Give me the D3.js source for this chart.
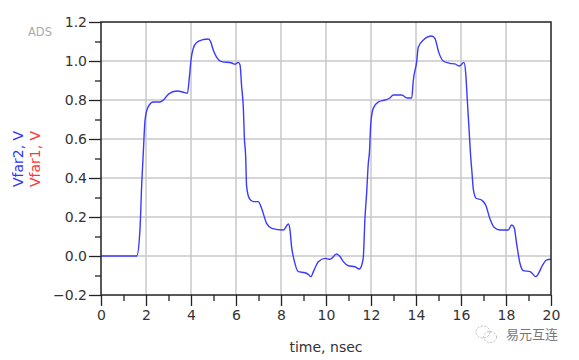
<!DOCTYPE html>
<html><head><meta charset="utf-8">
<script src="https://cdn.jsdelivr.net/npm/d3@7"></script>
<style>body{margin:0;background:#fff}svg{display:block}</style>
</head><body>
<script>
// time (ns) and Vfar2 (V)
const timeNs = [0,1.59,1.73,1.81,1.88,1.96,2.10,2.33,2.62,2.77,3.0,3.36,3.66,3.84,3.93,4.0,4.10,4.25,4.55,4.77,4.87,4.99,5.14,5.36,5.81,5.96,6.10,6.18,6.25,6.33,6.37,6.43,6.47,6.59,6.77,6.99,7.14,7.36,7.59,8.10,8.33,8.40,8.47,8.58,8.77,9.07,9.21,9.33,9.44,9.66,9.96,10.18,10.47,10.62,10.77,10.99,11.29,11.48,11.59,11.66,11.73,11.81,11.88,11.93,11.99,12.10,12.33,12.62,12.84,12.99,13.36,13.61,13.81,13.88,14.03,14.10,14.33,14.70,14.84,15.0,15.21,15.51,15.73,15.93,16.13,16.21,16.28,16.36,16.43,16.48,16.55,16.67,16.92,17.1,17.29,17.47,17.73,18.10,18.25,18.36,18.47,18.62,18.77,19.07,19.33,19.44,19.63,19.81,20.0];
const vfar2 = [0,0,0.13,0.37,0.53,0.70,0.766,0.79,0.79,0.80,0.83,0.846,0.84,0.834,0.92,1.005,1.065,1.095,1.11,1.113,1.10,1.056,1.019,0.997,0.99,0.983,0.993,0.98,0.87,0.75,0.61,0.51,0.36,0.296,0.279,0.279,0.244,0.167,0.142,0.133,0.164,0.133,0.048,-0.02,-0.08,-0.086,-0.094,-0.106,-0.08,-0.029,-0.012,-0.017,0.01,-0.003,-0.029,-0.05,-0.055,-0.067,-0.046,-0.003,0.19,0.33,0.475,0.53,0.68,0.757,0.79,0.80,0.81,0.826,0.826,0.81,0.81,0.90,0.997,1.07,1.108,1.128,1.116,1.048,1.0,0.988,0.985,0.974,0.993,0.937,0.80,0.646,0.51,0.44,0.34,0.296,0.287,0.26,0.19,0.147,0.133,0.133,0.159,0.147,0.065,-0.037,-0.075,-0.08,-0.106,-0.09,-0.046,-0.02,-0.017];
const xTicks = [0,2,4,6,8,10,12,14,16,18,20];
const yTicks = [-0.2,0.0,0.2,0.4,0.6,0.8,1.0,1.2];

const W = 579, H = 360;
const m = {left:101, right:28, top:22, bottom:65};
const svg = d3.select("body").append("svg").attr("width",W).attr("height",H);
const x = d3.scaleLinear().domain([0,20]).range([m.left, W-m.right]);
const y = d3.scaleLinear().domain([-0.2,1.2]).range([H-m.bottom, m.top]);
const font = "'DejaVu Sans', Verdana, sans-serif";

// grid
const g = svg.append("g");
g.selectAll("line.gx").data(xTicks.slice(1,-1)).join("line")
  .attr("x1",d=>x(d)).attr("x2",d=>x(d)).attr("y1",y(1.2)).attr("y2",y(-0.2))
  .attr("stroke","#c8c8c8").attr("stroke-width",1.5);
g.selectAll("line.gy").data(yTicks.slice(1,-1)).join("line")
  .attr("y1",d=>y(d)).attr("y2",d=>y(d)).attr("x1",x(0)).attr("x2",x(20))
  .attr("stroke","#c8c8c8").attr("stroke-width",1.5);

// data line
const line = d3.line().x((d,i)=>x(timeNs[i])).y(d=>y(d)).curve(d3.curveMonotoneX);
svg.append("path").datum(vfar2).attr("d",line).attr("fill","none")
  .attr("stroke","#3a3aff").attr("stroke-width",1.4);

// axes
const xAxis = d3.axisBottom(x).tickValues(xTicks).tickSize(11).tickPadding(4).tickFormat(d3.format("d"));
const xMinor = d3.axisBottom(x).tickValues(d3.range(1,20,2)).tickSize(6).tickFormat("");
const yAxis = d3.axisLeft(y).tickValues(yTicks).tickSize(12).tickPadding(2).tickFormat(d3.format(".1f"));
const yMinor = d3.axisLeft(y).tickValues([-0.1,0.1,0.3,0.5,0.7,0.9,1.1]).tickSize(6).tickFormat("");

function style(sel){
  sel.select(".domain").remove();
  sel.selectAll("line").attr("stroke","#222").attr("stroke-width",1.3);
  sel.selectAll("text").attr("fill","#333").style("font-family",font).style("font-size","14px");
}
svg.append("g").attr("transform",`translate(0,${y(-0.2)})`).call(xAxis).call(style);
svg.append("g").attr("transform",`translate(0,${y(-0.2)})`).call(xMinor).call(style);
svg.append("g").attr("transform",`translate(${x(0)},0)`).call(yAxis).call(style);
svg.append("g").attr("transform",`translate(${x(0)},0)`).call(yMinor).call(style);

// frame
svg.append("rect").attr("x",x(0)).attr("y",y(1.2)).attr("width",x(20)-x(0)).attr("height",y(-0.2)-y(1.2))
  .attr("fill","none").attr("stroke","#222").attr("stroke-width",1.5);

// titles
svg.append("text").attr("x",x(10)).attr("y",352).attr("text-anchor","middle")
  .style("font-family",font).style("font-size","14px").attr("fill","#333").text("time, nsec");
const yl = svg.append("g").attr("transform","translate(0,159) rotate(-90)");
yl.append("text").attr("x",0).attr("y",23).attr("text-anchor","middle")
  .style("font-family",font).style("font-size","14px").attr("fill","#3333ff").text("Vfar2, V");
yl.append("text").attr("x",0).attr("y",40).attr("text-anchor","middle")
  .style("font-family",font).style("font-size","14px").attr("fill","#ff3333").text("Vfar1, V");

svg.append("text").attr("x",28).attr("y",36).style("font-family",font).style("font-size","11.5px")
  .attr("fill","#aaa").text("ADS");

// watermark
const wm = svg.append("g").attr("fill","none").attr("stroke","#bbb").attr("stroke-width",1).attr("stroke-dasharray","2,1.5");
wm.append("ellipse").attr("cx",483).attr("cy",332).attr("rx",7).attr("ry",6);
wm.append("ellipse").attr("cx",490).attr("cy",337).attr("rx",6.5).attr("ry",5.5);
svg.append("text").attr("x",506).attr("y",339).style("font-family","'Noto Sans CJK SC', sans-serif")
  .style("font-size","13px").attr("fill","#777").text("易元互连");
</script>
</body></html>
